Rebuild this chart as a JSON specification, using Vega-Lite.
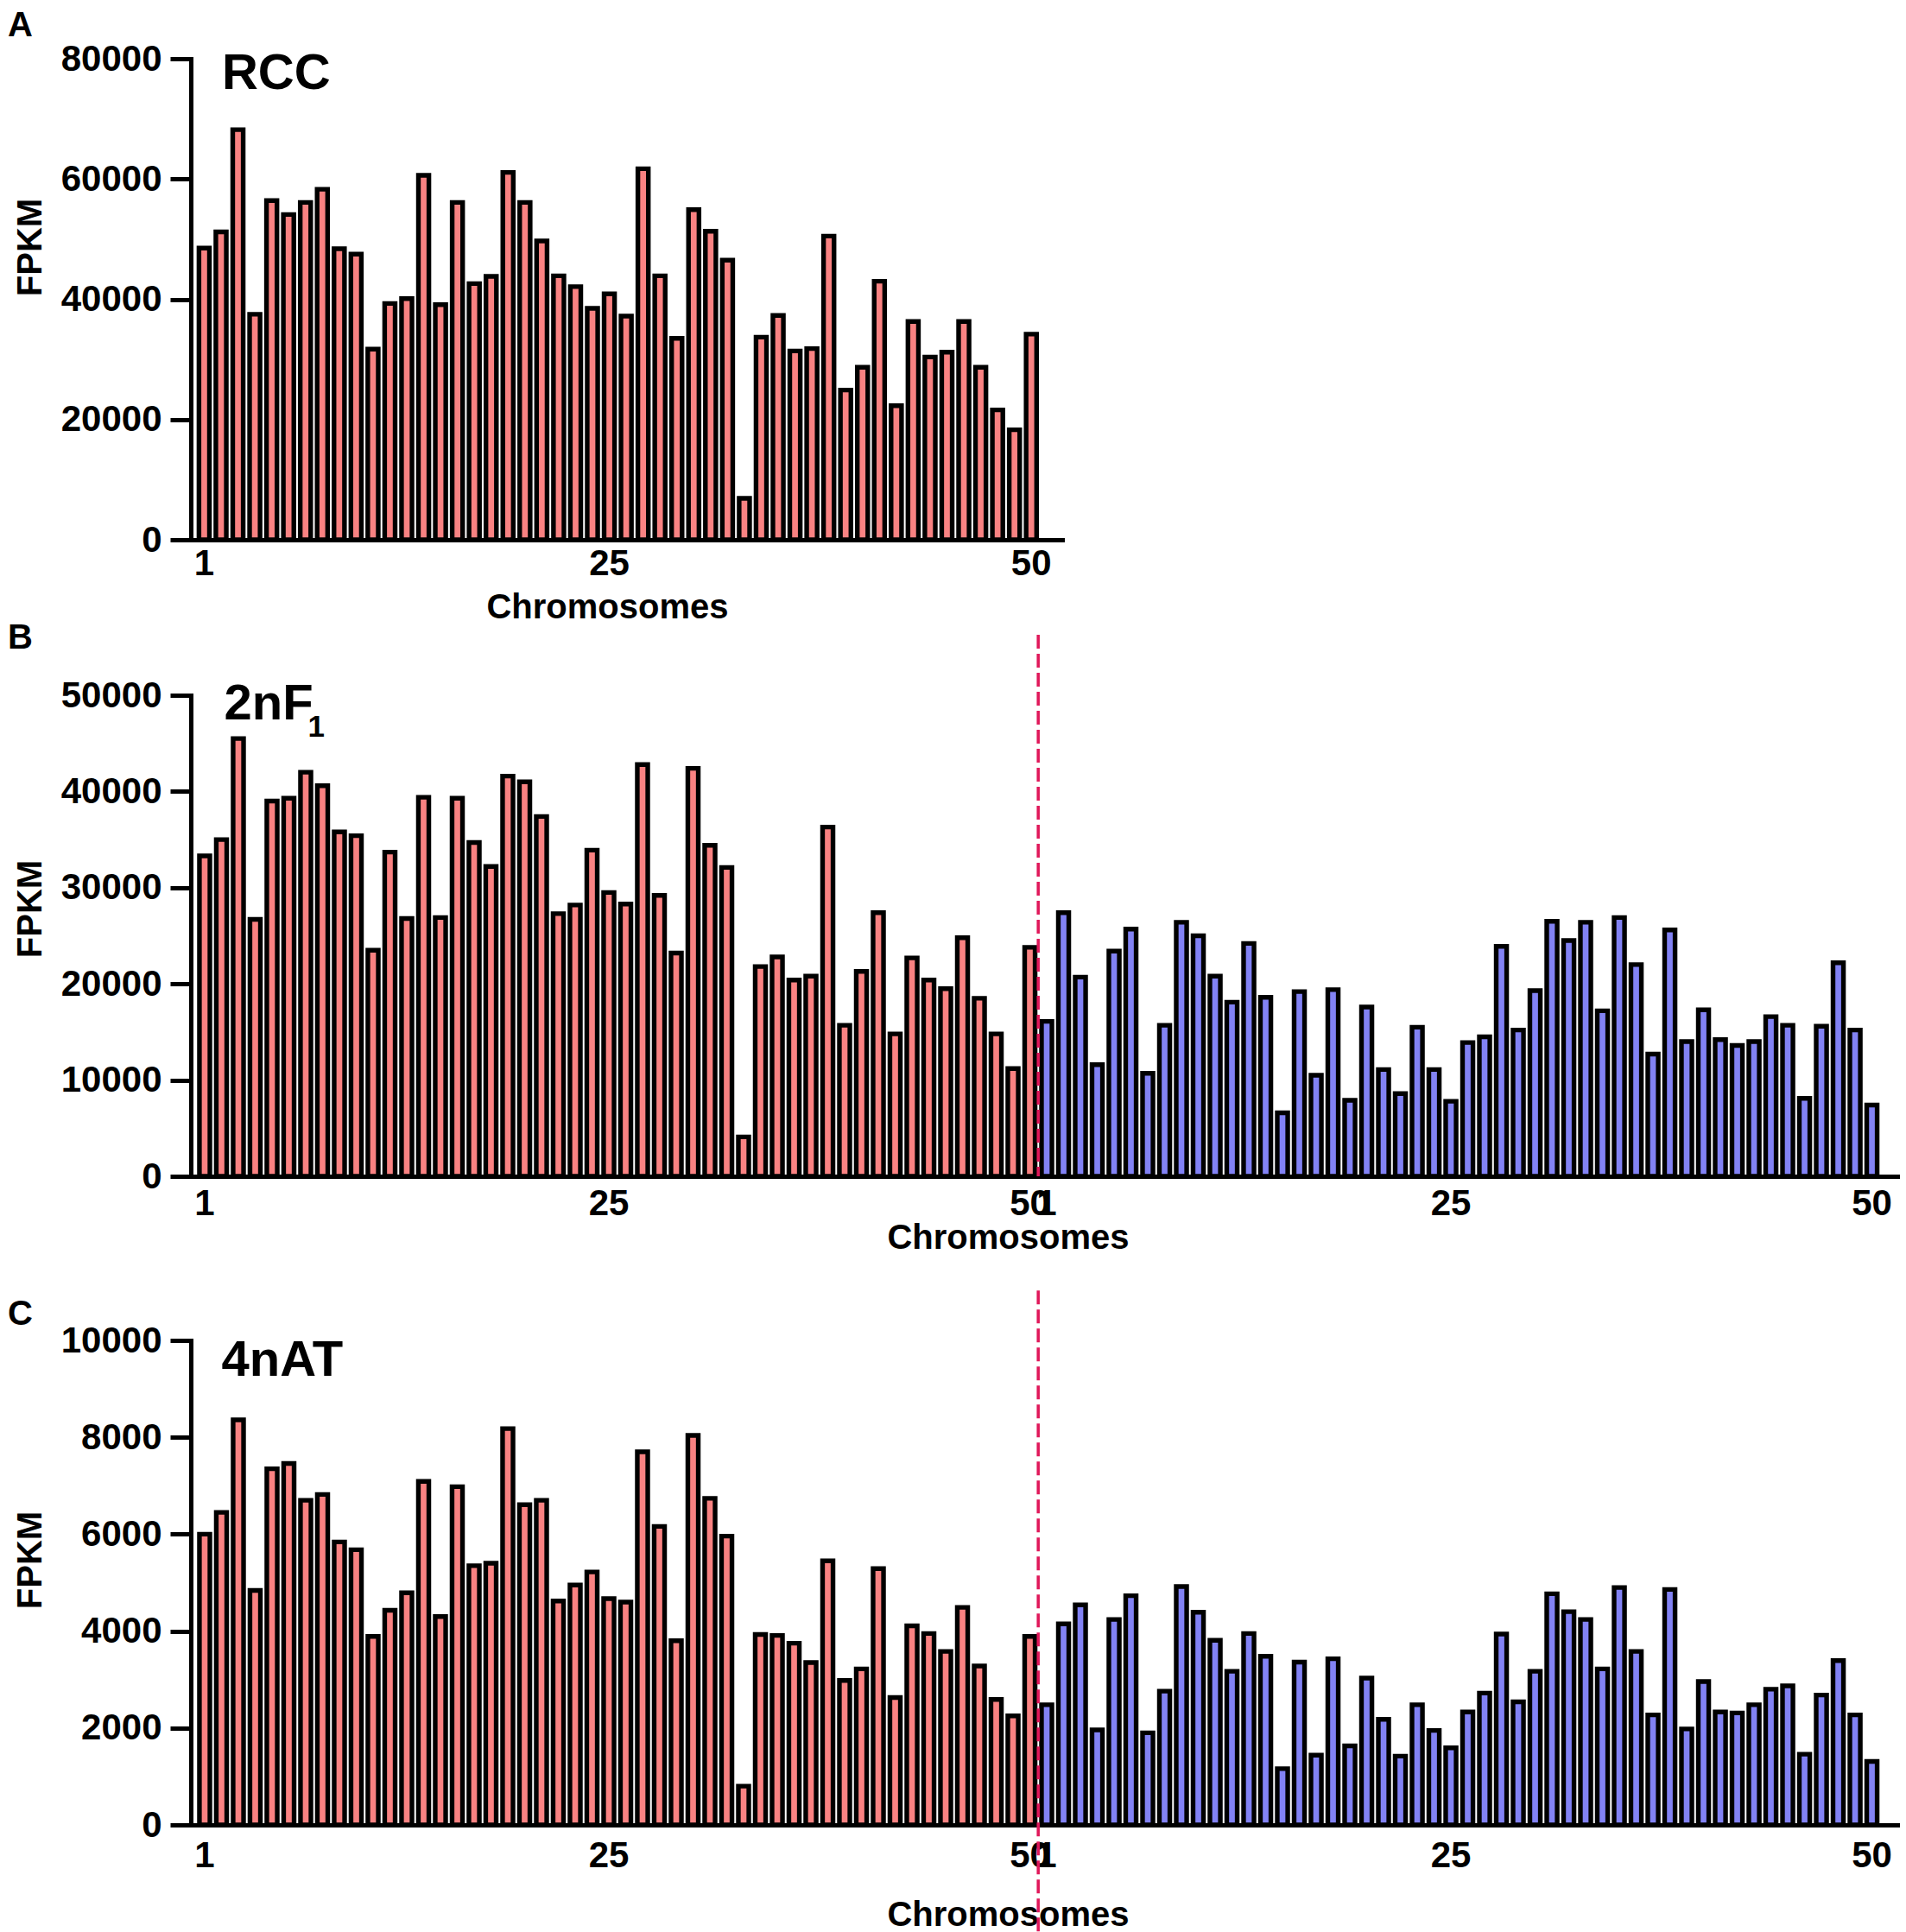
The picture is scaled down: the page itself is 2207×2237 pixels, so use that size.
{
  "$schema": "https://vega.github.io/schema/vega-lite/v6.json",
  "background": "white",
  "padding": {"left": 9, "top": 10, "right": 5, "bottom": 0},
  "config": {
    "view": {"stroke": null},
    "font": "Liberation Sans",
    "axis": {
      "grid": false,
      "domainColor": "black",
      "domainWidth": 5,
      "domainCap": "square",
      "tickColor": "black",
      "tickWidth": 5,
      "labelColor": "black",
      "labelFont": "Liberation Sans",
      "labelFontWeight": "bold",
      "labelFontSize": 42,
      "titleColor": "black",
      "titleFont": "Liberation Sans",
      "titleFontWeight": "bold",
      "titleFontSize": 40
    },
    "axisX": {"ticks": false, "tickSize": 0, "labelAngle": 0, "labelOverlap": false, "titleBaseline": "alphabetic", "titleAlign": "center"},
    "axisY": {"tickSize": 24, "labelPadding": 10, "titleAngle": 270, "titleAlign": "center", "titleBaseline": "alphabetic", "titleX": -174},
    "title": {"font": "Liberation Sans", "fontWeight": "bold", "fontSize": 40, "color": "black", "anchor": "start", "frame": "group", "baseline": "alphabetic", "dx": -212}
  },
  "datasets": {
    "rcc": [
      {"pos": 1, "fpkm": 48500, "sub": "R"}, {"pos": 2, "fpkm": 51200, "sub": "R"}, {"pos": 3, "fpkm": 68200, "sub": "R"}, {"pos": 4, "fpkm": 37500, "sub": "R"}, {"pos": 5, "fpkm": 56400, "sub": "R"},
      {"pos": 6, "fpkm": 54100, "sub": "R"}, {"pos": 7, "fpkm": 56100, "sub": "R"}, {"pos": 8, "fpkm": 58300, "sub": "R"}, {"pos": 9, "fpkm": 48400, "sub": "R"}, {"pos": 10, "fpkm": 47500, "sub": "R"},
      {"pos": 11, "fpkm": 31700, "sub": "R"}, {"pos": 12, "fpkm": 39300, "sub": "R"}, {"pos": 13, "fpkm": 40100, "sub": "R"}, {"pos": 14, "fpkm": 60600, "sub": "R"}, {"pos": 15, "fpkm": 39100, "sub": "R"},
      {"pos": 16, "fpkm": 56100, "sub": "R"}, {"pos": 17, "fpkm": 42600, "sub": "R"}, {"pos": 18, "fpkm": 43800, "sub": "R"}, {"pos": 19, "fpkm": 61100, "sub": "R"}, {"pos": 20, "fpkm": 56100, "sub": "R"},
      {"pos": 21, "fpkm": 49700, "sub": "R"}, {"pos": 22, "fpkm": 43900, "sub": "R"}, {"pos": 23, "fpkm": 42100, "sub": "R"}, {"pos": 24, "fpkm": 38500, "sub": "R"}, {"pos": 25, "fpkm": 40900, "sub": "R"},
      {"pos": 26, "fpkm": 37200, "sub": "R"}, {"pos": 27, "fpkm": 61700, "sub": "R"}, {"pos": 28, "fpkm": 43900, "sub": "R"}, {"pos": 29, "fpkm": 33500, "sub": "R"}, {"pos": 30, "fpkm": 54900, "sub": "R"},
      {"pos": 31, "fpkm": 51300, "sub": "R"}, {"pos": 32, "fpkm": 46500, "sub": "R"}, {"pos": 33, "fpkm": 6900, "sub": "R"}, {"pos": 34, "fpkm": 33700, "sub": "R"}, {"pos": 35, "fpkm": 37300, "sub": "R"},
      {"pos": 36, "fpkm": 31400, "sub": "R"}, {"pos": 37, "fpkm": 31800, "sub": "R"}, {"pos": 38, "fpkm": 50500, "sub": "R"}, {"pos": 39, "fpkm": 24900, "sub": "R"}, {"pos": 40, "fpkm": 28700, "sub": "R"},
      {"pos": 41, "fpkm": 43000, "sub": "R"}, {"pos": 42, "fpkm": 22300, "sub": "R"}, {"pos": 43, "fpkm": 36300, "sub": "R"}, {"pos": 44, "fpkm": 30400, "sub": "R"}, {"pos": 45, "fpkm": 31200, "sub": "R"},
      {"pos": 46, "fpkm": 36300, "sub": "R"}, {"pos": 47, "fpkm": 28700, "sub": "R"}, {"pos": 48, "fpkm": 21600, "sub": "R"}, {"pos": 49, "fpkm": 18300, "sub": "R"}, {"pos": 50, "fpkm": 34200, "sub": "R"}
    ],
    "f1": [
      {"pos": 1, "fpkm": 33300, "sub": "R"}, {"pos": 2, "fpkm": 35000, "sub": "R"}, {"pos": 3, "fpkm": 45500, "sub": "R"}, {"pos": 4, "fpkm": 26700, "sub": "R"}, {"pos": 5, "fpkm": 39000, "sub": "R"},
      {"pos": 6, "fpkm": 39300, "sub": "R"}, {"pos": 7, "fpkm": 42000, "sub": "R"}, {"pos": 8, "fpkm": 40600, "sub": "R"}, {"pos": 9, "fpkm": 35800, "sub": "R"}, {"pos": 10, "fpkm": 35400, "sub": "R"},
      {"pos": 11, "fpkm": 23500, "sub": "R"}, {"pos": 12, "fpkm": 33700, "sub": "R"}, {"pos": 13, "fpkm": 26800, "sub": "R"}, {"pos": 14, "fpkm": 39400, "sub": "R"}, {"pos": 15, "fpkm": 26900, "sub": "R"},
      {"pos": 16, "fpkm": 39300, "sub": "R"}, {"pos": 17, "fpkm": 34700, "sub": "R"}, {"pos": 18, "fpkm": 32200, "sub": "R"}, {"pos": 19, "fpkm": 41600, "sub": "R"}, {"pos": 20, "fpkm": 41000, "sub": "R"},
      {"pos": 21, "fpkm": 37400, "sub": "R"}, {"pos": 22, "fpkm": 27300, "sub": "R"}, {"pos": 23, "fpkm": 28200, "sub": "R"}, {"pos": 24, "fpkm": 33900, "sub": "R"}, {"pos": 25, "fpkm": 29500, "sub": "R"},
      {"pos": 26, "fpkm": 28300, "sub": "R"}, {"pos": 27, "fpkm": 42800, "sub": "R"}, {"pos": 28, "fpkm": 29200, "sub": "R"}, {"pos": 29, "fpkm": 23200, "sub": "R"}, {"pos": 30, "fpkm": 42400, "sub": "R"},
      {"pos": 31, "fpkm": 34400, "sub": "R"}, {"pos": 32, "fpkm": 32100, "sub": "R"}, {"pos": 33, "fpkm": 4100, "sub": "R"}, {"pos": 34, "fpkm": 21800, "sub": "R"}, {"pos": 35, "fpkm": 22800, "sub": "R"},
      {"pos": 36, "fpkm": 20400, "sub": "R"}, {"pos": 37, "fpkm": 20800, "sub": "R"}, {"pos": 38, "fpkm": 36300, "sub": "R"}, {"pos": 39, "fpkm": 15700, "sub": "R"}, {"pos": 40, "fpkm": 21300, "sub": "R"},
      {"pos": 41, "fpkm": 27400, "sub": "R"}, {"pos": 42, "fpkm": 14800, "sub": "R"}, {"pos": 43, "fpkm": 22700, "sub": "R"}, {"pos": 44, "fpkm": 20400, "sub": "R"}, {"pos": 45, "fpkm": 19500, "sub": "R"},
      {"pos": 46, "fpkm": 24800, "sub": "R"}, {"pos": 47, "fpkm": 18500, "sub": "R"}, {"pos": 48, "fpkm": 14800, "sub": "R"}, {"pos": 49, "fpkm": 11200, "sub": "R"}, {"pos": 50, "fpkm": 23800, "sub": "R"},
      {"pos": 51, "fpkm": 16100, "sub": "B"}, {"pos": 52, "fpkm": 27400, "sub": "B"}, {"pos": 53, "fpkm": 20700, "sub": "B"}, {"pos": 54, "fpkm": 11600, "sub": "B"}, {"pos": 55, "fpkm": 23400, "sub": "B"},
      {"pos": 56, "fpkm": 25700, "sub": "B"}, {"pos": 57, "fpkm": 10700, "sub": "B"}, {"pos": 58, "fpkm": 15700, "sub": "B"}, {"pos": 59, "fpkm": 26400, "sub": "B"}, {"pos": 60, "fpkm": 25000, "sub": "B"},
      {"pos": 61, "fpkm": 20800, "sub": "B"}, {"pos": 62, "fpkm": 18100, "sub": "B"}, {"pos": 63, "fpkm": 24200, "sub": "B"}, {"pos": 64, "fpkm": 18600, "sub": "B"}, {"pos": 65, "fpkm": 6600, "sub": "B"},
      {"pos": 66, "fpkm": 19200, "sub": "B"}, {"pos": 67, "fpkm": 10500, "sub": "B"}, {"pos": 68, "fpkm": 19400, "sub": "B"}, {"pos": 69, "fpkm": 7900, "sub": "B"}, {"pos": 70, "fpkm": 17600, "sub": "B"},
      {"pos": 71, "fpkm": 11100, "sub": "B"}, {"pos": 72, "fpkm": 8600, "sub": "B"}, {"pos": 73, "fpkm": 15500, "sub": "B"}, {"pos": 74, "fpkm": 11100, "sub": "B"}, {"pos": 75, "fpkm": 7800, "sub": "B"},
      {"pos": 76, "fpkm": 13900, "sub": "B"}, {"pos": 77, "fpkm": 14500, "sub": "B"}, {"pos": 78, "fpkm": 23900, "sub": "B"}, {"pos": 79, "fpkm": 15200, "sub": "B"}, {"pos": 80, "fpkm": 19300, "sub": "B"},
      {"pos": 81, "fpkm": 26500, "sub": "B"}, {"pos": 82, "fpkm": 24500, "sub": "B"}, {"pos": 83, "fpkm": 26400, "sub": "B"}, {"pos": 84, "fpkm": 17200, "sub": "B"}, {"pos": 85, "fpkm": 26900, "sub": "B"},
      {"pos": 86, "fpkm": 22000, "sub": "B"}, {"pos": 87, "fpkm": 12700, "sub": "B"}, {"pos": 88, "fpkm": 25600, "sub": "B"}, {"pos": 89, "fpkm": 14000, "sub": "B"}, {"pos": 90, "fpkm": 17300, "sub": "B"},
      {"pos": 91, "fpkm": 14200, "sub": "B"}, {"pos": 92, "fpkm": 13600, "sub": "B"}, {"pos": 93, "fpkm": 14000, "sub": "B"}, {"pos": 94, "fpkm": 16600, "sub": "B"}, {"pos": 95, "fpkm": 15700, "sub": "B"},
      {"pos": 96, "fpkm": 8100, "sub": "B"}, {"pos": 97, "fpkm": 15600, "sub": "B"}, {"pos": 98, "fpkm": 22200, "sub": "B"}, {"pos": 99, "fpkm": 15200, "sub": "B"}, {"pos": 100, "fpkm": 7400, "sub": "B"}
    ],
    "at": [
      {"pos": 1, "fpkm": 6000, "sub": "R"}, {"pos": 2, "fpkm": 6450, "sub": "R"}, {"pos": 3, "fpkm": 8360, "sub": "R"}, {"pos": 4, "fpkm": 4840, "sub": "R"}, {"pos": 5, "fpkm": 7350, "sub": "R"},
      {"pos": 6, "fpkm": 7460, "sub": "R"}, {"pos": 7, "fpkm": 6700, "sub": "R"}, {"pos": 8, "fpkm": 6820, "sub": "R"}, {"pos": 9, "fpkm": 5840, "sub": "R"}, {"pos": 10, "fpkm": 5680, "sub": "R"},
      {"pos": 11, "fpkm": 3890, "sub": "R"}, {"pos": 12, "fpkm": 4430, "sub": "R"}, {"pos": 13, "fpkm": 4790, "sub": "R"}, {"pos": 14, "fpkm": 7090, "sub": "R"}, {"pos": 15, "fpkm": 4300, "sub": "R"},
      {"pos": 16, "fpkm": 6980, "sub": "R"}, {"pos": 17, "fpkm": 5350, "sub": "R"}, {"pos": 18, "fpkm": 5400, "sub": "R"}, {"pos": 19, "fpkm": 8180, "sub": "R"}, {"pos": 20, "fpkm": 6610, "sub": "R"},
      {"pos": 21, "fpkm": 6700, "sub": "R"}, {"pos": 22, "fpkm": 4620, "sub": "R"}, {"pos": 23, "fpkm": 4950, "sub": "R"}, {"pos": 24, "fpkm": 5220, "sub": "R"}, {"pos": 25, "fpkm": 4670, "sub": "R"},
      {"pos": 26, "fpkm": 4600, "sub": "R"}, {"pos": 27, "fpkm": 7700, "sub": "R"}, {"pos": 28, "fpkm": 6160, "sub": "R"}, {"pos": 29, "fpkm": 3800, "sub": "R"}, {"pos": 30, "fpkm": 8040, "sub": "R"},
      {"pos": 31, "fpkm": 6740, "sub": "R"}, {"pos": 32, "fpkm": 5960, "sub": "R"}, {"pos": 33, "fpkm": 800, "sub": "R"}, {"pos": 34, "fpkm": 3930, "sub": "R"}, {"pos": 35, "fpkm": 3910, "sub": "R"},
      {"pos": 36, "fpkm": 3750, "sub": "R"}, {"pos": 37, "fpkm": 3350, "sub": "R"}, {"pos": 38, "fpkm": 5450, "sub": "R"}, {"pos": 39, "fpkm": 2980, "sub": "R"}, {"pos": 40, "fpkm": 3220, "sub": "R"},
      {"pos": 41, "fpkm": 5290, "sub": "R"}, {"pos": 42, "fpkm": 2630, "sub": "R"}, {"pos": 43, "fpkm": 4110, "sub": "R"}, {"pos": 44, "fpkm": 3950, "sub": "R"}, {"pos": 45, "fpkm": 3580, "sub": "R"},
      {"pos": 46, "fpkm": 4490, "sub": "R"}, {"pos": 47, "fpkm": 3280, "sub": "R"}, {"pos": 48, "fpkm": 2590, "sub": "R"}, {"pos": 49, "fpkm": 2250, "sub": "R"}, {"pos": 50, "fpkm": 3890, "sub": "R"},
      {"pos": 51, "fpkm": 2480, "sub": "B"}, {"pos": 52, "fpkm": 4150, "sub": "B"}, {"pos": 53, "fpkm": 4540, "sub": "B"}, {"pos": 54, "fpkm": 1960, "sub": "B"}, {"pos": 55, "fpkm": 4240, "sub": "B"},
      {"pos": 56, "fpkm": 4730, "sub": "B"}, {"pos": 57, "fpkm": 1900, "sub": "B"}, {"pos": 58, "fpkm": 2760, "sub": "B"}, {"pos": 59, "fpkm": 4920, "sub": "B"}, {"pos": 60, "fpkm": 4390, "sub": "B"},
      {"pos": 61, "fpkm": 3810, "sub": "B"}, {"pos": 62, "fpkm": 3170, "sub": "B"}, {"pos": 63, "fpkm": 3950, "sub": "B"}, {"pos": 64, "fpkm": 3480, "sub": "B"}, {"pos": 65, "fpkm": 1160, "sub": "B"},
      {"pos": 66, "fpkm": 3360, "sub": "B"}, {"pos": 67, "fpkm": 1440, "sub": "B"}, {"pos": 68, "fpkm": 3430, "sub": "B"}, {"pos": 69, "fpkm": 1630, "sub": "B"}, {"pos": 70, "fpkm": 3030, "sub": "B"},
      {"pos": 71, "fpkm": 2180, "sub": "B"}, {"pos": 72, "fpkm": 1420, "sub": "B"}, {"pos": 73, "fpkm": 2480, "sub": "B"}, {"pos": 74, "fpkm": 1950, "sub": "B"}, {"pos": 75, "fpkm": 1590, "sub": "B"},
      {"pos": 76, "fpkm": 2330, "sub": "B"}, {"pos": 77, "fpkm": 2720, "sub": "B"}, {"pos": 78, "fpkm": 3940, "sub": "B"}, {"pos": 79, "fpkm": 2540, "sub": "B"}, {"pos": 80, "fpkm": 3170, "sub": "B"},
      {"pos": 81, "fpkm": 4770, "sub": "B"}, {"pos": 82, "fpkm": 4400, "sub": "B"}, {"pos": 83, "fpkm": 4240, "sub": "B"}, {"pos": 84, "fpkm": 3220, "sub": "B"}, {"pos": 85, "fpkm": 4900, "sub": "B"},
      {"pos": 86, "fpkm": 3580, "sub": "B"}, {"pos": 87, "fpkm": 2270, "sub": "B"}, {"pos": 88, "fpkm": 4860, "sub": "B"}, {"pos": 89, "fpkm": 1980, "sub": "B"}, {"pos": 90, "fpkm": 2960, "sub": "B"},
      {"pos": 91, "fpkm": 2330, "sub": "B"}, {"pos": 92, "fpkm": 2310, "sub": "B"}, {"pos": 93, "fpkm": 2480, "sub": "B"}, {"pos": 94, "fpkm": 2800, "sub": "B"}, {"pos": 95, "fpkm": 2870, "sub": "B"},
      {"pos": 96, "fpkm": 1460, "sub": "B"}, {"pos": 97, "fpkm": 2680, "sub": "B"}, {"pos": 98, "fpkm": 3390, "sub": "B"}, {"pos": 99, "fpkm": 2270, "sub": "B"}, {"pos": 100, "fpkm": 1310, "sub": "B"}
    ]
  },
  "bounds": "flush",
  "spacing": 180,
  "vconcat": [
    {
      "width": 1009,
      "height": 557,
      "title": {"text": "A", "offset": -3},
      "layer": [
        {
          "data": {"name": "rcc"},
          "mark": {"type": "bar", "stroke": "black", "strokeWidth": 5.4},
          "encoding": {
            "x": {
              "field": "pos", "type": "ordinal",
              "scale": {"paddingInner": 0.38, "paddingOuter": 1.055, "align": 0.24},
              "axis": {"values": [1, 25, 50], "labelPadding": 7, "titleX": 482, "titleY": 90},
              "title": "Chromosomes"
            },
            "y": {
              "field": "fpkm", "type": "quantitative",
              "scale": {"domain": [0, 80000], "nice": false},
              "axis": {"values": [0, 20000, 40000, 60000, 80000], "format": "d", "titleY": 218},
              "title": "FPKM"
            },
            "fill": {"field": "sub", "type": "nominal", "scale": {"domain": ["R", "B"], "range": ["#F98282", "#8282F4"]}, "legend": null}
          }
        },
        {
          "data": {"values": [{}]},
          "mark": {"type": "text", "text": "RCC", "align": "left", "baseline": "alphabetic", "fontSize": 58, "fontWeight": "bold", "color": "black", "dx": 1},
          "encoding": {"x": {"datum": 2, "type": "ordinal"}, "y": {"datum": 75000, "type": "quantitative"}}
        }
      ]
    },
    {
      "width": 1976,
      "height": 557,
      "title": {"text": "B", "offset": -26},
      "layer": [
        {
          "data": {"name": "f1"},
          "mark": {"type": "bar", "stroke": "black", "strokeWidth": 5.4},
          "encoding": {
            "x": {
              "field": "pos", "type": "ordinal",
              "scale": {"paddingInner": 0.38, "paddingOuter": 0.855, "align": 0.298},
              "axis": {
                "values": [1, 25, 50, 51, 75, 100],
                "labelExpr": "datum.value > 50 ? datum.value - 50 : datum.value",
                "labelPadding": 11, "titleX": 946, "titleY": 83,
                "encode": {"labels": {"update": {"dx": {"signal": "datum.value == 50 ? -6 : 0"}}}}
              },
              "title": "Chromosomes"
            },
            "y": {
              "field": "fpkm", "type": "quantitative",
              "scale": {"domain": [0, 50000], "nice": false},
              "axis": {"values": [0, 10000, 20000, 30000, 40000, 50000], "format": "d", "titleY": 247},
              "title": "FPKM"
            },
            "fill": {"field": "sub", "type": "nominal", "scale": {"domain": ["R", "B"], "range": ["#F98282", "#8282F4"]}, "legend": null}
          }
        },
        {
          "data": {"values": [{}]},
          "mark": {"type": "rule", "color": "#E0185A", "strokeWidth": 3.5, "strokeDash": [16, 6]},
          "encoding": {
            "x": {"datum": 50, "type": "ordinal", "bandPosition": 1.3},
            "y": {"datum": 56280, "type": "quantitative"},
            "y2": {"datum": 0}
          }
        },
        {
          "data": {"values": [{}]},
          "mark": {"type": "text", "text": "2nF", "align": "left", "baseline": "alphabetic", "fontSize": 58, "fontWeight": "bold", "color": "black", "dx": 3},
          "encoding": {"x": {"datum": 2, "type": "ordinal"}, "y": {"datum": 47490, "type": "quantitative"}}
        },
        {
          "data": {"values": [{}]},
          "mark": {"type": "text", "text": "1", "align": "left", "baseline": "alphabetic", "fontSize": 35, "fontWeight": "bold", "color": "black", "dx": 100},
          "encoding": {"x": {"datum": 2, "type": "ordinal"}, "y": {"datum": 45690, "type": "quantitative"}}
        }
      ]
    },
    {
      "width": 1976,
      "height": 571,
      "title": {"text": "C", "offset": -50},
      "layer": [
        {
          "data": {"name": "at"},
          "mark": {"type": "bar", "stroke": "black", "strokeWidth": 5.4},
          "encoding": {
            "x": {
              "field": "pos", "type": "ordinal",
              "scale": {"paddingInner": 0.38, "paddingOuter": 0.855, "align": 0.298},
              "axis": {
                "values": [1, 25, 50, 51, 75, 100],
                "labelExpr": "datum.value > 50 ? datum.value - 50 : datum.value",
                "labelPadding": 15, "titleX": 946, "titleY": 116,
                "encode": {"labels": {"update": {"dx": {"signal": "datum.value == 50 ? -6 : 0"}}}}
              },
              "title": "Chromosomes"
            },
            "y": {
              "field": "fpkm", "type": "quantitative",
              "scale": {"domain": [0, 10000], "nice": false, "range": [571, 10]},
              "axis": {"values": [0, 2000, 4000, 6000, 8000, 10000], "format": "d", "titleY": 264},
              "title": "FPKM"
            },
            "fill": {"field": "sub", "type": "nominal", "scale": {"domain": ["R", "B"], "range": ["#F98282", "#8282F4"]}, "legend": null}
          }
        },
        {
          "data": {"values": [{}]},
          "mark": {"type": "rule", "color": "#E0185A", "strokeWidth": 3.5, "strokeDash": [16, 6]},
          "encoding": {
            "x": {"datum": 50, "type": "ordinal", "bandPosition": 1.3},
            "y": {"datum": 11030, "type": "quantitative"},
            "y2": {"datum": -2210}
          }
        },
        {
          "data": {"values": [{}]},
          "mark": {"type": "text", "text": "4nAT", "align": "left", "baseline": "alphabetic", "fontSize": 58, "fontWeight": "bold", "color": "black", "dx": 0},
          "encoding": {"x": {"datum": 2, "type": "ordinal"}, "y": {"datum": 9269, "type": "quantitative"}}
        }
      ]
    }
  ]
}
